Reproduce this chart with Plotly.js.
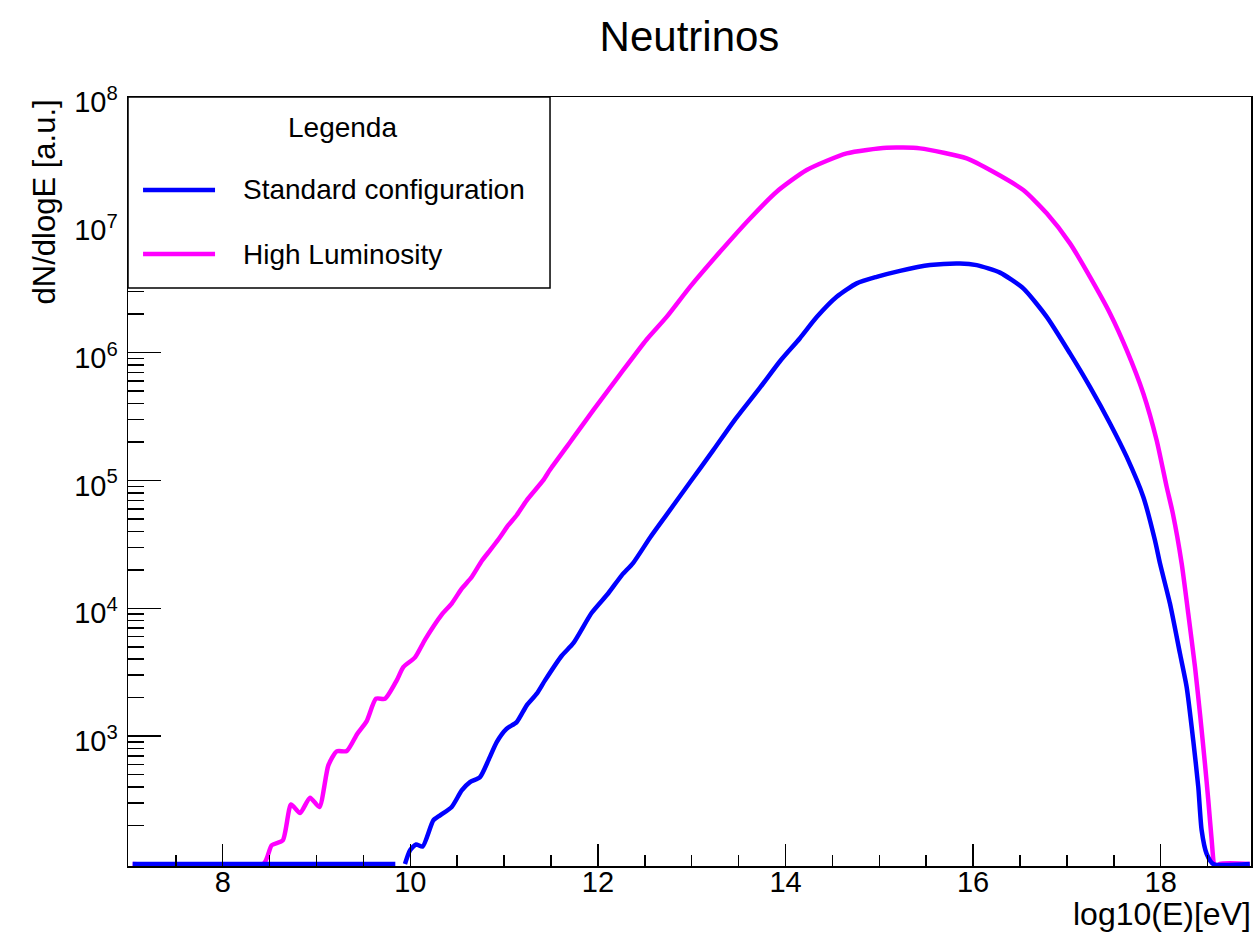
<!DOCTYPE html>
<html>
<head>
<meta charset="utf-8">
<script src="https://cdn.plot.ly/plotly-3.0.1.min.js"></script>
<style>
  html, body { margin: 0; padding: 0; background: #fff; }
  #chart { width: 1255px; height: 935px; }
</style>
</head>
<body>
<div id="chart"></div>
<script>
// ---- data ----
const chartTitle = "Neutrinos";
const xTitle = "log10(E)[eV]";
const yTitle = "dN/dlogE [a.u.]";
const legendTitle = "Legenda";
const seriesNames = ["Standard configuration", "High Luminosity"];
const seriesColors = ["#0000ff", "#ff00ff"];

// Standard configuration (blue)
const xStd = [7.04, 9.84, 9.89, 9.943, 9.997, 10.061, 10.132, 10.245, 10.317, 10.441, 10.548, 10.636, 10.743, 10.832, 10.921, 11.028, 11.134, 11.241, 11.348, 11.436, 11.614, 11.738, 11.934, 12.111, 12.254, 12.377, 12.555, 12.733, 12.982, 13.230, 13.444, 13.728, 13.941, 14.154, 14.333, 14.546, 14.759, 14.972, 15.221, 15.541, 15.860, 16.038, 16.287, 16.535, 16.785, 17.033, 17.246, 17.460, 17.638, 17.815, 17.939, 17.993, 18.099, 18.206, 18.277, 18.347, 18.401, 18.437, 18.490, 18.561, 18.95];
const yStd = [100, 100, null, 100, 128, 142, 137, 219, 240, 279, 376, 437, 478, 646, 897, 1143, 1288, 1742, 2148, 2729, 4256, 5333, 9226, 13120, 18110, 22700, 35650, 54080, 96830, 172600, 287700, 532100, 857000, 1297000, 1897000, 2735000, 3483000, 3917000, 4365000, 4842000, 4989000, 4842000, 4227000, 3184000, 1905000, 986300, 539500, 279300, 152800, 74300, 34040, 22390, 10890, 4416, 2421, 927, 399, 183, 120, 100, 100];

// High Luminosity (magenta)
const xHL = [7.04, 8.433, 8.522, 8.640, 8.728, 8.824, 8.931, 9.030, 9.126, 9.215, 9.322, 9.435, 9.535, 9.634, 9.730, 9.855, 9.925, 10.050, 10.157, 10.335, 10.441, 10.548, 10.655, 10.761, 10.850, 10.938, 11.045, 11.134, 11.241, 11.418, 11.489, 11.667, 11.738, 11.951, 12.236, 12.520, 12.733, 12.982, 13.302, 13.622, 13.906, 14.226, 14.652, 15.079, 15.434, 15.932, 16.215, 16.535, 16.785, 17.033, 17.246, 17.460, 17.638, 17.815, 17.957, 18.064, 18.130, 18.224, 18.294, 18.366, 18.419, 18.472, 18.508, 18.544, 18.579, 18.632, 18.95];
const yHL = [100, 100, 140, 153, 292, 250, 330, 279, 590, 760, 764, 1045, 1312, 1963, 1960, 2729, 3467, 4130, 5690, 8930, 10890, 14260, 17580, 23440, 28440, 34510, 44670, 53460, 69980, 100500, 121100, 183200, 216300, 354800, 676000, 1268000, 1905000, 3273000, 6152000, 11220000, 18160000, 26850000, 36220000, 40090000, 39630000, 33110000, 26000000, 18710000, 12300000, 7161000, 3917000, 2028000, 1047000, 479700, 206500, 89130, 55080, 22390, 9100, 3475, 1500, 608, 314, 153, 92, 100, 100];

// axis ticks
const xTickVals = [8, 10, 12, 14, 16, 18];
const xTickText = ["8", "10", "12", "14", "16", "18"];
const yTickVals = [1e3, 1e4, 1e5, 1e6, 1e7, 1e8];
const yTickText = ["10<sup>3</sup>", "10<sup>4</sup>", "10<sup>5</sup>", "10<sup>6</sup>", "10<sup>7</sup>", "10<sup>8</sup>"];
const yDecades = [2, 3, 4, 5, 6, 7];
const minorDigits = [2, 3, 4, 5, 6, 7, 8, 9];

const yMinor = [];
yDecades.forEach(d => minorDigits.forEach(m => yMinor.push(m * Math.pow(10, d))));

const FONT = "Liberation Sans, Arial, Helvetica, sans-serif";

const traces = [
  {
    x: xHL, y: yHL, name: seriesNames[1], type: "scatter", mode: "lines",
    line: {color: seriesColors[1], width: 4.5, shape: "spline", smoothing: 0.6},
    connectgaps: false, showlegend: false, hoverinfo: "x+y"
  },
  {
    x: xStd, y: yStd, name: seriesNames[0], type: "scatter", mode: "lines",
    line: {color: seriesColors[0], width: 4.5, shape: "spline", smoothing: 0.6},
    connectgaps: false, showlegend: false, hoverinfo: "x+y"
  }
];

// legend box (drawn in paper coordinates of the frame, as in the ROOT canvas)
const legBox = {x0: 0, x1: 0.3758, y0: 0.7516, y1: 1};
const legRows = [0.8791, 0.7958];
const legKey = {x0: 0.0134, x1: 0.0775};
const legTextX = 0.1006;

const shapes = [
  {type: "rect", xref: "paper", yref: "paper", x0: legBox.x0, x1: legBox.x1, y0: legBox.y0, y1: legBox.y1,
   fillcolor: "#ffffff", line: {color: "#000", width: 1.5}, layer: "above"}
];
const annotations = [
  {
    text: yTitle, textangle: -90, showarrow: false,
    xref: "paper", yref: "paper", x: -0.074, y: 1,
    xanchor: "center", yanchor: "top",
    font: {family: FONT, size: 31, color: "#000"}
  },
  {
    text: xTitle, showarrow: false,
    xref: "paper", yref: "paper", x: 1.002, y: -0.062,
    xanchor: "right", yanchor: "middle",
    font: {family: FONT, size: 32, color: "#000"}
  },
  {
    text: legendTitle, showarrow: false,
    xref: "paper", yref: "paper", x: 0.1906, y: 0.9597,
    xanchor: "center", yanchor: "middle",
    font: {family: FONT, size: 28, color: "#000"}
  }
];
seriesNames.forEach((name, i) => {
  shapes.push({type: "line", xref: "paper", yref: "paper",
    x0: legKey.x0, x1: legKey.x1, y0: legRows[i], y1: legRows[i],
    line: {color: seriesColors[i], width: 4.5}, layer: "above"});
  annotations.push({text: name, showarrow: false, xref: "paper", yref: "paper",
    x: legTextX, y: legRows[i], xanchor: "left", yanchor: "middle",
    font: {family: FONT, size: 28, color: "#000"}});
});

const layout = {
  width: 1255, height: 935,
  margin: {l: 128, r: 4, t: 97, b: 69, pad: 0},
  paper_bgcolor: "#ffffff", plot_bgcolor: "#ffffff",
  font: {family: FONT, color: "#000000", size: 28},
  showlegend: false,
  title: {
    text: chartTitle, font: {family: FONT, size: 42, color: "#000"},
    x: 0.5, xref: "paper", xanchor: "center",
    y: 1 - 36 / 935, yref: "container", yanchor: "middle"
  },
  xaxis: {
    type: "linear", range: [6.99, 18.963],
    showgrid: false, zeroline: false,
    showline: true, linecolor: "#000", linewidth: 1.5, mirror: true,
    ticks: "inside", ticklen: 22, tickwidth: 1.5, tickcolor: "#000",
    tickmode: "array", tickvals: xTickVals, ticktext: xTickText,
    tickfont: {family: FONT, size: 29, color: "#000"},
    ticklabelstandoff: -10,
    minor: {ticks: "inside", dtick: 0.5, tick0: 0, ticklen: 11, tickwidth: 1.5, tickcolor: "#000", showgrid: false}
  },
  yaxis: {
    type: "log", range: [1.984, 8],
    showgrid: false, zeroline: false,
    showline: true, linecolor: "#000", linewidth: 1.5, mirror: true,
    ticks: "inside", ticklen: 33, tickwidth: 1.5, tickcolor: "#000",
    tickmode: "array", tickvals: yTickVals, ticktext: yTickText,
    tickfont: {family: FONT, size: 29, color: "#000"},
    ticklabelstandoff: 3, ticklabelshift: 5,
    minor: {ticks: "inside", tickmode: "array", tickvals: yMinor, ticklen: 16, tickwidth: 1.5, tickcolor: "#000", showgrid: false}
  },
  shapes: shapes,
  annotations: annotations
};

Plotly.newPlot("chart", traces, layout, {staticPlot: true, displayModeBar: false});
</script>
</body>
</html>
